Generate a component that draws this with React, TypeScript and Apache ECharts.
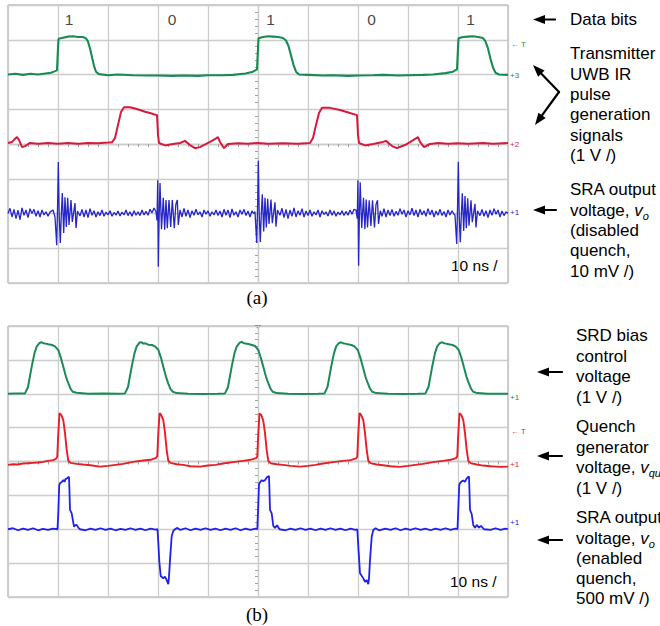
import React, { useEffect, useRef } from "react";
import * as echarts from "echarts";

// ---------- data (x: ns, 10 ns/div; y: divisions, 0 = screen centre) ----------
const bitLabels = ["1", "0", "1", "0", "1"];
const bitTimes = [12.2, 32.8, 52.5, 72.7, 92.5];
const bitLevel = 3.57;

// Panel (a): transmitter signals, SRA output with quench disabled
const greenA: number[][] = [
  [0, 2.0], [1.5, 2.02], [3, 1.99], [4.5, 2.02], [6, 2.0], [7.5, 2.03], [8.6, 2.05], [9.3, 2.09], [9.8, 2.12],
  [9.95, 2.6], [10.1, 3.03], [11, 3.06], [12, 3.09], [13, 3.1], [14, 3.08], [15, 3.08], [15.6, 3.04],
  [16.0, 2.95], [16.4, 2.75], [16.8, 2.5], [17.2, 2.25], [17.6, 2.08], [18.2, 2.01], [20, 1.98], [22, 2.0],
  [25, 1.98], [28, 1.97], [30, 1.97], [33, 1.96], [35, 1.97], [38, 1.96], [40, 1.98], [43, 1.98], [45, 1.99],
  [47.5, 2.03], [49, 2.08], [49.8, 2.15], [49.95, 2.6], [50.1, 3.04], [51, 3.08], [52, 3.1], [53, 3.09],
  [54, 3.08], [55, 3.05], [55.6, 2.98], [56.1, 2.82], [56.6, 2.55], [57.1, 2.28], [57.6, 2.08], [58.2, 2.0],
  [60, 1.99], [63, 1.97], [65, 1.98], [68, 1.96], [70, 1.97], [73, 1.98], [75, 1.99], [78, 1.97], [80, 1.98],
  [83, 1.99], [85, 2.0], [87.5, 2.04], [89, 2.08], [89.8, 2.15], [89.95, 2.6], [90.1, 3.04], [91, 3.08],
  [92, 3.09], [93, 3.1], [94, 3.08], [95, 3.05], [95.5, 2.95], [96, 2.75], [96.5, 2.45], [97, 2.2],
  [97.5, 2.05], [98.2, 2.0], [100, 1.99],
];

const redA: number[][] = [
  [0, 0.03], [0.8, 0.06], [1.2, 0.12], [1.8, 0.2], [2.2, 0.12], [2.8, -0.09], [3.4, -0.06], [4.4, 0.03],
  [6, 0.01], [8, 0.03], [10, 0.01], [12, 0.03], [14, 0.01], [16, 0.03], [18, 0.02], [20, 0.04], [20.8, 0.05],
  [21.4, 0.17], [22, 0.55], [22.6, 0.92], [23.2, 1.06], [24.4, 1.06], [25.4, 1.02], [26.4, 0.98], [27.4, 0.93],
  [28.4, 0.89], [29.3, 0.85], [29.8, 0.83], [30.0, 0.26], [30.2, 0.03], [31.4, -0.04], [33, 0.0], [34.4, 0.03],
  [35.4, 0.09], [36.4, -0.03], [37.4, -0.12], [38.4, -0.09], [40.4, 0.06], [41.4, 0.14], [42, 0.2], [42.4, 0.06],
  [43.2, -0.12], [44, 0.0], [46, 0.02], [48, 0.01], [50, 0.03], [52, 0.01], [55, 0.02], [58, 0.01], [60.4, 0.03],
  [61, 0.17], [61.6, 0.55], [62.2, 0.89], [62.8, 1.04], [64.4, 1.04], [66.4, 0.98], [68.4, 0.89], [69.8, 0.83],
  [70, 0.26], [70.2, 0.03], [71.4, -0.04], [73, 0.0], [75, 0.06], [75.6, 0.09], [76.8, -0.06], [77.8, -0.12],
  [79.4, -0.03], [80.8, 0.09], [82, 0.2], [82.4, 0.06], [83.2, -0.09], [84.4, 0.0], [86, 0.03], [88, 0.01],
  [90, 0.02], [92, 0.01], [95, 0.03], [97, 0.01], [100, 0.03],
];

const blueA: number[][] = [
  [0, -2.0], [0.4, -1.85], [0.8, -2.1], [1.2, -1.88], [1.6, -2.15], [2.0, -1.9], [2.4, -2.18], [2.8, -1.84],
  [3.2, -2.05], [3.6, -1.9], [4.0, -2.12], [4.4, -1.86], [4.8, -2.0], [5.2, -1.88], [5.6, -2.08], [6.0, -1.92],
  [6.4, -2.1], [6.8, -1.9], [7.2, -2.04], [7.6, -1.95], [8.0, -2.08], [8.4, -1.96], [9.0, -1.9], [9.4, -2.1],
  [9.74, -2.91], [9.94, -1.61], [10.06, -0.52], [10.24, -2.04], [10.46, -2.85], [10.66, -2.04], [10.86, -1.41],
  [11.14, -2.56], [11.4, -1.53], [11.66, -2.39], [11.94, -1.55], [12.2, -2.33], [12.6, -1.61], [12.86, -2.24],
  [13.4, -1.7], [13.6, -2.42], [13.9, -1.93], [14.4, -2.07],
  [14.8, -1.88], [15.2, -2.1], [15.6, -1.9], [16.0, -2.12], [16.4, -1.86], [16.8, -2.05], [17.2, -1.92],
  [17.6, -2.1], [18.0, -1.95], [18.4, -2.06], [18.8, -1.9], [19.2, -2.08], [19.6, -1.96], [20.0, -2.04],
  [20.4, -1.92], [20.8, -2.08], [21.2, -1.97], [21.6, -2.05], [22.0, -1.93], [22.4, -2.07], [22.8, -1.96],
  [23.2, -2.04], [23.6, -1.9], [24.0, -2.06], [24.4, -1.95], [24.8, -2.08], [25.2, -1.92], [25.6, -2.05],
  [26.0, -1.95], [26.4, -2.06], [26.8, -1.9], [27.2, -2.04], [27.6, -1.94], [28.0, -2.05], [28.4, -1.88],
  [28.8, -1.98], [29.2, -1.84], [29.6, -1.95], [29.8, -2.2],
  [29.94, -1.04], [30.06, -3.53], [30.2, -2.3], [30.4, -1.12], [30.7, -2.45], [31.06, -1.55], [31.34, -2.47],
  [31.6, -1.61], [31.86, -2.42], [32.2, -1.61], [32.54, -2.39], [32.86, -1.61], [33.26, -2.42], [33.56, -1.75],
  [33.86, -1.61], [34.06, -2.33], [34.4, -1.9], [34.8, -2.1],
  [35.2, -1.85], [35.6, -2.08], [36.0, -1.9], [36.4, -2.12], [36.8, -1.92], [37.2, -2.05], [37.6, -1.88],
  [38.0, -2.04], [38.4, -1.95], [38.8, -2.1], [39.2, -1.9], [39.6, -2.02], [40.0, -1.92], [40.4, -2.08],
  [40.8, -1.95], [41.2, -2.04], [41.6, -1.9], [42.0, -2.06], [42.4, -1.93], [42.8, -2.1], [43.2, -1.88],
  [43.6, -2.05], [44.0, -1.9], [44.4, -2.12], [44.8, -1.87], [45.2, -2.05], [45.6, -1.95], [46.0, -2.1],
  [46.4, -1.9], [46.8, -2.02], [47.2, -1.88], [47.6, -2.06], [48.0, -1.93], [48.4, -2.1], [48.8, -1.92],
  [49.1, -2.0], [49.4, -1.95],
  [49.74, -2.85], [49.94, -1.65], [50.06, -0.48], [50.24, -2.0], [50.46, -2.82], [50.66, -2.0], [50.86, -1.45],
  [51.14, -2.52], [51.4, -1.55], [51.66, -2.4], [51.94, -1.58], [52.2, -2.3], [52.6, -1.6], [52.86, -2.28],
  [53.4, -1.68], [53.6, -2.38], [53.9, -1.9], [54.4, -2.05],
  [54.8, -1.85], [55.2, -2.12], [55.6, -1.88], [56.0, -2.15], [56.4, -1.9], [56.8, -2.08], [57.2, -1.84],
  [57.6, -2.1], [58.0, -1.92], [58.4, -2.05], [58.8, -1.86], [59.2, -2.1], [59.6, -1.93], [60.0, -2.06],
  [60.4, -1.9], [60.8, -2.08], [61.2, -1.95], [61.6, -2.04], [62.0, -1.9], [62.4, -2.1], [62.8, -1.92],
  [63.2, -2.03], [63.6, -1.95], [64.0, -2.07], [64.4, -1.9], [64.8, -2.05], [65.2, -1.93], [65.6, -2.08],
  [66.0, -1.96], [66.4, -2.04], [66.8, -1.92], [67.2, -2.06], [67.6, -1.94], [68.0, -2.05], [68.4, -1.9],
  [68.8, -2.02], [69.2, -1.88], [69.6, -1.9], [69.85, -2.15],
  [69.98, -1.04], [70.12, -3.5], [70.26, -2.2], [70.44, -1.1], [70.74, -2.42], [71.1, -1.55], [71.38, -2.45],
  [71.64, -1.6], [71.9, -2.4], [72.24, -1.62], [72.58, -2.36], [72.9, -1.62], [73.3, -2.4], [73.6, -1.74],
  [73.9, -1.62], [74.1, -2.3], [74.45, -1.92], [74.8, -2.08],
  [75.2, -1.86], [75.6, -2.1], [76.0, -1.9], [76.4, -2.06], [76.8, -1.88], [77.2, -2.08], [77.6, -1.94],
  [78.0, -2.05], [78.4, -1.86], [78.8, -2.02], [79.2, -1.9], [79.6, -2.1], [80.0, -1.92], [80.4, -2.04],
  [80.8, -1.85], [81.2, -2.06], [81.6, -1.9], [82.0, -2.1], [82.4, -1.88], [82.8, -2.04], [83.2, -1.92],
  [83.6, -2.08], [84.0, -1.86], [84.4, -2.04], [84.8, -1.9], [85.2, -2.1], [85.6, -1.93], [86.0, -2.05],
  [86.4, -1.88], [86.8, -2.06], [87.2, -1.94], [87.6, -2.1], [88.0, -1.9], [88.4, -2.04], [88.8, -1.92],
  [89.1, -2.0], [89.4, -2.05],
  [89.74, -2.88], [89.94, -1.6], [90.06, -0.51], [90.24, -2.05], [90.46, -2.83], [90.66, -2.05], [90.86, -1.42],
  [91.14, -2.5], [91.4, -1.5], [91.66, -2.42], [91.94, -1.56], [92.2, -2.35], [92.6, -1.62], [92.86, -2.25],
  [93.4, -1.72], [93.6, -2.4], [93.9, -1.92], [94.4, -2.06],
  [94.8, -1.88], [95.2, -2.08], [95.6, -1.92], [96.0, -2.12], [96.4, -1.9], [96.8, -2.05], [97.2, -1.86],
  [97.6, -2.02], [98.0, -1.9], [98.4, -2.1], [98.8, -1.93], [99.2, -2.06], [99.6, -1.95], [100, -2.0],
];

// Panel (b): SRD bias, quench generator, SRA output with quench enabled
const greenB: number[][] = [
  [0, 2.0], [1.5, 2.01], [3.4, 2.01],
  [4.0, 2.2], [4.74, 2.8], [5.3, 3.2], [5.74, 3.39], [6.3, 3.5], [6.74, 3.52], [7.06, 3.49], [7.5, 3.48],
  [8.06, 3.46], [8.8, 3.44], [9.4, 3.4], [10.06, 3.29], [10.6, 3.05], [11.06, 2.8], [11.6, 2.5], [12.06, 2.31],
  [12.5, 2.15], [12.94, 2.06], [13.74, 2.03], [16, 2.0], [19, 2.01], [22, 2.0], [23.4, 2.01],
  [24.0, 2.2], [24.74, 2.8], [25.3, 3.2], [25.74, 3.4], [26.3, 3.51], [26.74, 3.52], [27.06, 3.48], [27.5, 3.49],
  [28.06, 3.45], [28.8, 3.44], [29.4, 3.4], [30.06, 3.3], [30.6, 3.06], [31.06, 2.8], [31.6, 2.5], [32.06, 2.3],
  [32.5, 2.14], [32.94, 2.06], [33.74, 2.02], [36, 2.0], [39, 1.99], [42, 2.0], [43.4, 2.01],
  [44.0, 2.2], [44.74, 2.8], [45.3, 3.2], [45.74, 3.39], [46.3, 3.5], [46.74, 3.53], [47.06, 3.5], [47.5, 3.48],
  [48.06, 3.47], [48.8, 3.44], [49.4, 3.41], [50.06, 3.29], [50.6, 3.04], [51.06, 2.8], [51.6, 2.5], [52.06, 2.31],
  [52.5, 2.15], [52.94, 2.06], [53.74, 2.02], [56, 2.0], [59, 1.99], [62, 2.0], [63.3, 2.01],
  [63.9, 2.2], [64.64, 2.8], [65.2, 3.2], [65.64, 3.4], [66.2, 3.5], [66.64, 3.52], [66.96, 3.49], [67.4, 3.48],
  [67.96, 3.46], [68.7, 3.44], [69.3, 3.4], [69.96, 3.29], [70.5, 3.05], [70.96, 2.8], [71.5, 2.5], [71.96, 2.31],
  [72.4, 2.15], [72.84, 2.06], [73.64, 2.02], [76, 2.0], [79, 1.99], [82, 2.0], [83.5, 2.01],
  [84.1, 2.2], [84.84, 2.8], [85.4, 3.2], [85.84, 3.4], [86.4, 3.5], [86.84, 3.52], [87.16, 3.49], [87.6, 3.48],
  [88.16, 3.46], [88.9, 3.44], [89.5, 3.4], [90.16, 3.29], [90.7, 3.05], [91.16, 2.8], [91.7, 2.5], [92.16, 2.31],
  [92.6, 2.15], [93.04, 2.06], [93.84, 2.02], [96, 2.0], [100, 2.0],
];

const redB: number[][] = [
  [0, -0.1], [1, -0.08], [2, -0.09], [3, -0.06], [4, -0.05], [5, -0.04], [6, -0.03], [7, -0.01], [8, 0.02],
  [9, 0.04], [9.6, 0.08], [9.85, 0.14], [10.05, 0.8], [10.3, 1.43], [10.5, 1.4], [10.7, 1.36], [11.06, 1.22],
  [11.4, 0.84], [11.74, 0.34], [12.06, 0.02], [12.5, -0.04], [13.74, -0.07], [15, -0.09], [16.5, -0.11],
  [18.4, -0.15], [20, -0.13], [21.5, -0.1], [23, -0.07], [25, -0.01], [27, 0.03], [28.5, 0.05], [29.6, 0.11],
  [29.85, 0.15], [30.05, 0.8], [30.3, 1.42], [30.5, 1.4], [30.7, 1.35], [31.06, 1.22], [31.4, 0.85], [31.74, 0.33],
  [32.06, 0.02], [32.5, -0.04], [33.74, -0.08], [35, -0.1], [36.5, -0.14], [38.4, -0.15], [40, -0.12],
  [41.5, -0.1], [43, -0.06], [45, -0.02], [47, 0.02], [48.5, 0.05], [49.6, 0.1], [49.85, 0.14], [50.05, 0.8],
  [50.3, 1.42], [50.5, 1.39], [50.7, 1.36], [51.06, 1.2], [51.4, 0.84], [51.74, 0.33], [52.06, 0.02],
  [52.5, -0.05], [53.74, -0.08], [55, -0.1], [56.5, -0.13], [58.4, -0.15], [60, -0.13], [61.5, -0.1],
  [63, -0.06], [65, -0.02], [67, 0.02], [68.5, 0.04], [69.6, 0.09], [69.85, 0.14], [70.05, 0.8], [70.3, 1.43],
  [70.5, 1.4], [70.7, 1.35], [71.06, 1.22], [71.4, 0.84], [71.74, 0.34], [72.06, 0.02], [72.5, -0.05],
  [73.74, -0.09], [75, -0.11], [76.5, -0.14], [78.4, -0.16], [80, -0.13], [81.5, -0.1], [83, -0.07],
  [85, -0.02], [87, 0.02], [88.5, 0.05], [89.6, 0.1], [89.85, 0.15], [90.05, 0.8], [90.3, 1.43], [90.5, 1.4],
  [90.7, 1.36], [91.06, 1.22], [91.4, 0.84], [91.74, 0.34], [92.06, 0.02], [92.5, -0.05], [93.74, -0.09],
  [95, -0.12], [96.5, -0.14], [98.4, -0.16], [100, -0.15],
];

const blueB: number[][] = [
  [0, -2.0], [1, -1.97], [2, -2.03], [3, -1.98], [4, -2.02], [5, -1.97], [6, -2.03], [7, -1.99], [8, -2.02],
  [9, -1.98], [9.9, -2.0],
  [10.06, -1.5], [10.25, -0.7], [10.4, -0.64], [10.8, -0.6], [11.06, -0.55], [11.3, -0.6], [11.5, -0.52],
  [11.74, -0.5], [12.0, -0.47], [12.2, -0.45], [12.3, -0.9], [12.4, -1.43], [12.74, -1.53], [13.0, -1.75],
  [13.2, -1.92], [13.5, -1.88], [13.74, -1.87], [14.1, -1.96], [14.4, -2.0],
  [15.5, -2.03], [16.5, -1.98], [17.5, -2.02], [18.5, -1.97], [19.5, -2.02], [20.5, -1.98], [21.5, -2.03],
  [22.5, -1.99], [23.5, -2.02], [24.5, -1.97], [25.5, -2.02], [26.5, -1.98], [27.5, -2.03], [28.5, -1.98],
  [29.5, -2.01], [29.9, -2.0],
  [30.1, -2.5], [30.26, -2.95], [30.54, -3.38], [31.06, -3.45], [31.4, -3.4], [31.74, -3.5], [32.06, -3.62],
  [32.2, -3.4], [32.4, -2.91], [32.74, -2.2], [33.06, -2.05], [33.4, -2.0], [33.8, -1.96], [34.5, -2.02],
  [35.5, -1.97], [36.5, -2.03], [37.5, -1.98], [38.5, -2.02], [39.5, -1.97], [40.5, -2.02], [41.5, -1.98],
  [42.5, -2.03], [43.5, -1.98], [44.5, -2.02], [45.5, -1.97], [46.5, -2.03], [47.5, -1.98], [48.5, -2.02],
  [49.5, -1.98], [49.86, -2.0],
  [50.05, -1.3], [50.2, -0.66], [50.5, -0.6], [50.74, -0.55], [51.0, -0.58], [51.4, -0.55], [51.86, -0.45],
  [52.2, -0.43], [52.3, -0.9], [52.4, -1.43], [52.74, -1.53], [53.06, -1.9], [53.4, -1.96], [53.8, -1.88],
  [54.3, -2.0],
  [55.5, -2.03], [56.5, -1.98], [57.5, -2.02], [58.5, -1.97], [59.5, -2.02], [60.5, -1.98], [61.5, -2.03],
  [62.5, -1.98], [63.5, -2.02], [64.5, -1.97], [65.5, -2.02], [66.5, -1.98], [67.5, -2.03], [68.5, -1.98],
  [69.5, -2.02], [69.86, -2.0],
  [70.1, -2.6], [70.4, -3.3], [71.06, -3.45], [71.4, -3.55], [71.74, -3.5], [72.06, -3.62], [72.2, -3.45],
  [72.4, -2.91], [72.74, -2.22], [73.06, -2.02], [73.5, -1.97], [74.2, -2.03],
  [75.5, -1.98], [76.5, -2.02], [77.5, -1.97], [78.5, -2.03], [79.5, -1.98], [80.5, -2.02], [81.5, -1.97],
  [82.5, -2.02], [83.5, -1.98], [84.5, -2.03], [85.5, -1.98], [86.5, -2.02], [87.5, -1.97], [88.5, -2.02],
  [89.5, -1.98], [89.9, -2.0],
  [90.06, -1.4], [90.25, -0.68], [90.5, -0.62], [90.8, -0.58], [91.1, -0.56], [91.4, -0.6], [91.74, -0.5],
  [92.0, -0.46], [92.2, -0.44], [92.3, -0.9], [92.4, -1.43], [92.74, -1.55], [93.06, -1.88], [93.4, -1.96],
  [93.74, -1.87], [94.2, -1.95], [94.6, -1.9], [95.2, -2.0],
  [96.5, -2.02], [97.5, -1.97], [98.5, -2.02], [99.5, -1.98], [100, -2.0],
];

// ---------- style ----------
const SANS = "'Liberation Sans', Arial, Helvetica, sans-serif";
const SERIF = "'Liberation Serif', 'Times New Roman', serif";
const GRID_LINE = "#cccccc";
const TICK = "#a0a0a0";

function xAx(gi: number) {
  return {
    type: "value", gridIndex: gi, min: 0, max: 100, interval: 10,
    axisLabel: { show: false }, axisTick: { show: false },
    axisLine: { show: true, onZero: true, lineStyle: { color: GRID_LINE, width: 1.3 } },
    minorTick: { show: true, splitNumber: 5, length: 3, lineStyle: { color: TICK, width: 1 } },
    splitLine: { show: true, lineStyle: { color: GRID_LINE, width: 1.3 } },
  };
}
function yAx(gi: number) {
  return {
    type: "value", gridIndex: gi, min: -4, max: 4, interval: 1, position: "left", offset: -250,
    axisLabel: { show: false }, axisTick: { show: false },
    axisLine: { show: true, onZero: false, lineStyle: { color: GRID_LINE, width: 1.3 } },
    minorTick: { show: true, splitNumber: 5, length: 3, lineStyle: { color: TICK, width: 1 } },
    splitLine: { show: true, lineStyle: { color: GRID_LINE, width: 1.3 } },
  };
}
function trace(data: number[][], gi: number, color: string, width: number) {
  return {
    type: "line", xAxisIndex: gi, yAxisIndex: gi, data, showSymbol: false, symbol: "none",
    lineStyle: { color, width }, silent: true, clip: true,
  };
}

function txt(x: number, y: number, text: string, extra: any = {}) {
  return {
    type: "text", x, y, silent: true,
    style: { text, fontFamily: SANS, fontSize: 17, fill: "#000", align: "left", verticalAlign: "middle", ...extra },
  };
}
function richV(x: number, y: number, sub: string) {
  return {
    type: "text", x, y, silent: true,
    style: {
      text: `{a|voltage, }{i|v}{s|${sub}}`,
      fill: "#000", align: "left", verticalAlign: "middle",
      rich: {
        a: { fontFamily: SANS, fontSize: 17, lineHeight: 22, fill: "#000" },
        i: { fontFamily: SANS, fontSize: 17, lineHeight: 22, fontStyle: "italic", fill: "#000" },
        s: { fontFamily: SANS, fontSize: 11, lineHeight: 11, fontStyle: "italic", verticalAlign: "bottom", fill: "#000" },
      },
    },
  };
}
function arrow(tx: number, ty: number, ex: number, ey: number) {
  const dx = tx - ex, dy = ty - ey;
  const L = Math.hypot(dx, dy);
  const ux = dx / L, uy = dy / L;
  const hl = 12, hw = 4.5;
  const bx = tx - ux * hl, by = ty - uy * hl;
  return [
    { type: "line", silent: true, shape: { x1: ex, y1: ey, x2: bx + ux * 2, y2: by + uy * 2 }, style: { stroke: "#000", lineWidth: 2.2, lineCap: "round" } },
    { type: "polygon", silent: true, shape: { points: [[tx, ty], [bx - uy * hw, by + ux * hw], [bx + uy * hw, by - ux * hw]] }, style: { fill: "#000" } },
  ];
}

const GREEN_A = "#168c52", RED_A = "#d61a3e", BLUE_A = "#2626c6";
const GREEN_B = "#1b8a58", RED_B = "#e61e26", BLUE_B = "#2020ee";

export default function App() {
  const ref = useRef<HTMLDivElement>(null);
  useEffect(() => {
    const chart = echarts.init(ref.current!, null, { renderer: "svg" });
    const linesA1 = ["Transmitter", "UWB IR", "pulse", "generation", "signals", "(1 V /)"];
    const yA1 = [53.5, 74, 94, 114.5, 135, 155];
    const linesA2 = ["SRA output", null, "(disabled", "quench,", "10 mV /)"];
    const yA2 = [189, 210, 230, 250.5, 271];
    const linesB = ["SRD bias", "control", "voltage", "(1 V /)", "Quench", "generator", null, "(1 V /)", "SRA output", null, "(enabled", "quench,", "500 mV /)"];
    const yB = [335, 356, 376.5, 397, 426.5, 447, 467, 488, 517, 538, 558, 578.5, 598.5];
    const graphics: any[] = [];
    graphics.push(txt(570, 19.5, "Data bits"));
    linesA1.forEach((t, i) => graphics.push(txt(570, yA1[i], t)));
    linesA2.forEach((t, i) => { if (t) graphics.push(txt(570, yA2[i], t)); });
    graphics.push(richV(570, yA2[1], "o"));
    linesB.forEach((t, i) => { if (t) graphics.push(txt(576, yB[i], t)); });
    graphics.push(richV(576, yB[6], "qu"));
    graphics.push(richV(576, yB[9], "o"));
    graphics.push(...arrow(533, 19.5, 555, 19.5));
    graphics.push(...arrow(533, 65, 559, 92));
    graphics.push(...arrow(535, 125, 559, 92));
    graphics.push(...arrow(533, 210, 556, 210));
    graphics.push(...arrow(537, 372, 562, 372));
    graphics.push(...arrow(537, 456, 562, 456));
    graphics.push(...arrow(537, 540, 562, 540));
    graphics.push(txt(451, 265.5, "10 ns /", { fontSize: 15.5 }));
    graphics.push(txt(450, 581.5, "10 ns /", { fontSize: 15.5 }));
    graphics.push(txt(257, 297, "(a)", { fontFamily: SERIF, fontSize: 19, align: "center" }));
    graphics.push(txt(257, 614, "(b)", { fontFamily: SERIF, fontSize: 19, align: "center" }));
    // channel markers at right edge of the screens
    const mk = (x: number, y: number, t: string, c: string) => txt(x, y, t, { fontSize: 8, fill: c });
    graphics.push(mk(511, 44, "← T", GREEN_A), mk(510, 75.5, "+3", GREEN_A), mk(510, 144.5, "+2", RED_A), mk(510, 212.5, "+1", BLUE_A));
    graphics.push(mk(510, 397, "+1", GREEN_B), mk(511, 431.5, "← T", RED_B), mk(510, 464, "+1", RED_B), mk(510, 522, "+1", BLUE_B));
    graphics.push({ type: "polygon", silent: true, shape: { points: [[254.5, 325], [261.5, 325], [258, 329]] }, style: { fill: "#3a7be0" } });

    const option: any = {
      animation: false,
      backgroundColor: "#ffffff",
      grid: [
        { left: 8, top: 5, width: 500, height: 278, show: true, borderColor: "#9c9c9c", borderWidth: 1, backgroundColor: "transparent" },
        { left: 8, top: 326, width: 500, height: 271, show: true, borderColor: "#9c9c9c", borderWidth: 1, backgroundColor: "transparent" },
      ],
      xAxis: [xAx(0), xAx(1)],
      yAxis: [yAx(0), yAx(1)],
      series: [
        trace(greenA, 0, GREEN_A, 2.1),
        trace(redA, 0, RED_A, 2.0),
        trace(blueA, 0, BLUE_A, 1.3),
        trace(greenB, 1, GREEN_B, 2.0),
        trace(redB, 1, RED_B, 1.9),
        trace(blueB, 1, BLUE_B, 1.8),
        {
          type: "scatter", xAxisIndex: 0, yAxisIndex: 0, symbolSize: 1, silent: true,
          itemStyle: { color: "rgba(0,0,0,0)" },
          data: bitTimes.map((t) => [t, bitLevel]),
          label: {
            show: true, position: "inside", fontSize: 15.5, fontFamily: SANS, color: "#111",
            formatter: (p: any) => bitLabels[p.dataIndex],
          },
        },
      ],
      graphic: graphics,
    };
    chart.setOption(option);
    return () => chart.dispose();
  }, []);
  return <div ref={ref} style={{ position: "fixed", left: 0, top: 0, width: 660, height: 626, background: "#fff" }} />;
}
